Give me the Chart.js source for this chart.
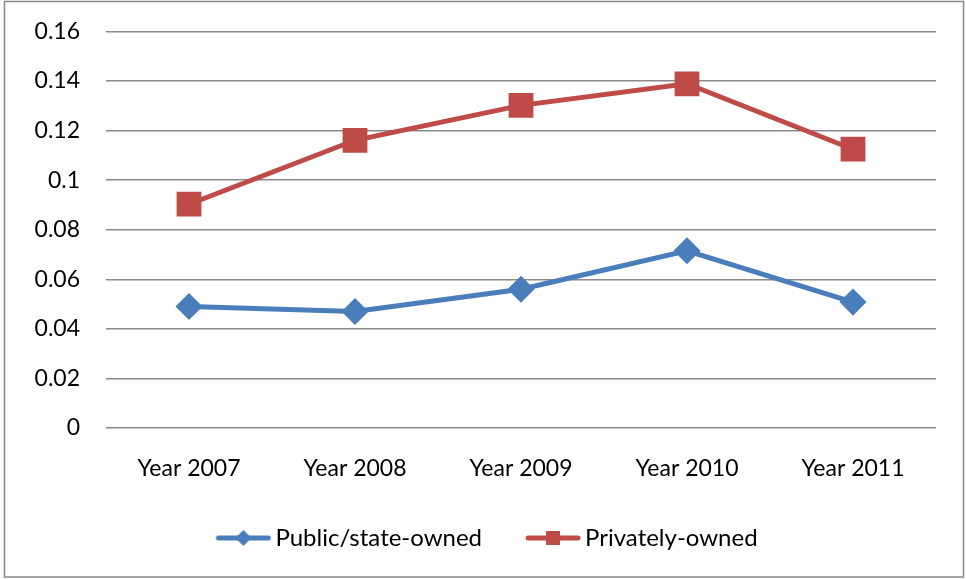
<!DOCTYPE html>
<html>
<head>
<meta charset="utf-8">
<script src="https://cdn.jsdelivr.net/npm/chart.js@4/dist/chart.umd.min.js"></script>
<style>
  html,body{margin:0;padding:0;background:#fff;}
  #wrap{position:relative;width:966px;height:579px;}
</style>
</head>
<body>
<div id="wrap"><canvas id="chart" width="966" height="579"></canvas></div>
<script>
// years on the category axis
const years = ["Year 2007","Year 2008","Year 2009","Year 2010","Year 2011"];
// ratio per ownership type
const publicOwned = [0.049, 0.047, 0.056, 0.0715, 0.0508];
const privateOwned = [0.0903, 0.1161, 0.1302, 0.1389, 0.1125];
const seriesNames = ["Public/state-owned","Privately-owned"];

const BLUE = "#4A7EBB", RED = "#BE4B48";
const FONT = "Lato, 'Open Sans', sans-serif";

// line+marker swatch for the legend; the left 9px stay empty so the
// 56px swatch ends just before the label text
function swatch(color, style){
  const c = document.createElement('canvas');
  c.width = 65; c.height = 18;
  const g = c.getContext('2d');
  g.strokeStyle = color; g.lineWidth = 5; g.lineCap = 'round';
  g.beginPath(); g.moveTo(12,9); g.lineTo(62,9); g.stroke();
  g.fillStyle = color;
  if(style === 'diamond'){
    g.beginPath(); g.moveTo(37,1); g.lineTo(45,9); g.lineTo(37,17); g.lineTo(29,9); g.closePath(); g.fill();
  } else {
    g.fillRect(30,2,14,14);
  }
  return c;
}
const swatches = [swatch(BLUE,'diamond'), swatch(RED,'square')];

// outer frame round the whole chart
const frame = {
  id:'frame',
  afterDraw(chart){
    const ctx = chart.ctx;
    ctx.save();
    ctx.strokeStyle = '#8a8a8a'; ctx.lineWidth = 1.5;
    ctx.strokeRect(4.5, 1.5, 959, 575.5);
    ctx.restore();
  }
};

// legend sits a little right of the canvas centre
const legendShift = {
  id:'legendShift',
  afterLayout(chart){
    const l = chart.legend;
    l.left += 18; l.right += 18;
  }
};

new Chart(document.getElementById('chart'), {
  type:'line',
  data:{
    labels: years,
    datasets:[
      {label:seriesNames[0], data:publicOwned, borderColor:BLUE, backgroundColor:BLUE,
       borderWidth:5, pointStyle:'rectRot', pointRadius:10, pointHoverRadius:10, tension:0},
      {label:seriesNames[1], data:privateOwned, borderColor:RED, backgroundColor:RED,
       borderWidth:5, pointStyle:'rect', pointRadius:14, pointHoverRadius:14, tension:0}
    ]
  },
  options:{
    responsive:false,
    animation:false,
    layout:{padding:{left:0, right:30, top:31.5, bottom:19}},
    plugins:{
      tooltip:{enabled:false},
      legend:{
        position:'bottom',
        labels:{
          usePointStyle:true,
          pointStyleWidth:49,
          boxHeight:18,
          padding:42,
          color:'#000',
          font:{family:FONT, size:24},
          generateLabels(chart){
            return chart.data.datasets.map((ds,i)=>({
              text:ds.label, pointStyle:swatches[i], fillStyle:ds.borderColor,
              strokeStyle:ds.borderColor, lineWidth:0, datasetIndex:i, fontColor:'#000'
            }));
          }
        }
      }
    },
    scales:{
      x:{
        offset:true,
        grid:{display:false, drawTicks:false, offset:true},
        border:{display:false},
        ticks:{color:'#000', font:{family:FONT, size:23}, padding:27, maxRotation:0},
        afterFit(s){ s.height = 56; }
      },
      y:{
        min:0, max:0.16,
        grid:{color:'#8a8a8a', lineWidth:1.5, drawTicks:true, tickLength:24, tickColor:'rgba(0,0,0,0)'},
        border:{display:false},
        ticks:{stepSize:0.02, color:'#000', font:{family:FONT, size:23}, padding:2,
          callback:v=>String(Math.round(v*100)/100)},
        afterFit(s){ s.width = 106; }
      }
    }
  },
  plugins:[frame, legendShift]
});
</script>
</body>
</html>
